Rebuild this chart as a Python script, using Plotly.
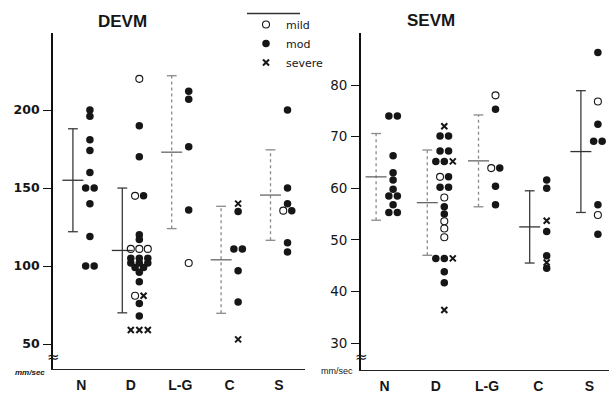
import plotly.graph_objects as go

# ---------------- data ----------------
categories = ["N", "D", "L-G", "C", "S"]

# DEVM, mm/sec
devm_mild = {"N": [], "D": [220, 145, 111, 111, 111, 81], "L-G": [102], "C": [], "S": [135.5]}
devm_mod = {
    "N": [200, 196, 181, 174, 160, 150, 150, 140, 119, 100, 100],
    "D": [190, 170, 145, 120, 117, 105, 105, 105, 102, 102, 102, 99, 99, 96, 90, 76, 68],
    "L-G": [212, 207, 176.5, 136],
    "C": [135, 111, 111, 97, 77],
    "S": [200, 150, 140, 135.5, 115, 109],
}
devm_severe = {"N": [], "D": [81, 59, 59, 59], "L-G": [], "C": [140, 53], "S": []}
devm_mean = [155, 110, 173, 104, 145.5]
devm_sd = [33, 40, 49, 34.3, 29]

# SEVM, mm/sec
sevm_mild = {"N": [], "D": [62.2, 58.2, 53.6, 52.2, 50.5], "L-G": [78, 63.9], "C": [], "S": [76.8, 54.8]}
sevm_mod = {
    "N": [74, 74, 66.3, 63, 61.6, 59.8, 58.5, 58.5, 56.8, 55.3, 55.3],
    "D": [70.1, 70.1, 67.2, 67.2, 65.2, 65.2, 62.2, 60.2, 60.2, 56.4, 55.0, 46.4, 46.4, 43.8, 41.7],
    "L-G": [75.3, 63.9, 60.4, 56.8],
    "C": [61.6, 60.0, 51.6, 46.9, 44.5],
    "S": [86.3, 72.4, 69.1, 69.1, 56.8, 51.1],
}
sevm_severe = {"N": [], "D": [72, 65.2, 46.4, 36.4], "L-G": [], "C": [53.7, 45.6], "S": []}
sevm_mean = [62.2, 57.2, 65.3, 52.5, 67.1]
sevm_sd = [8.4, 10.2, 8.9, 7.0, 11.8]

devm_ticks = [50, 100, 150, 200]
sevm_ticks = [30, 40, 50, 60, 70, 80]

# ---------------- geometry / style ----------------
W, H = 609, 395
L_X = (53, 305); L_Y = (33, 369)
R_X = (361, 609); R_Y = (33, 370)
L_XR = [-0.575, 4.526]; L_YR = [34.0, 249.4]
R_XR = [-0.461, 4.383]; R_YR = [24.77, 90.08]
INK = "#161616"

SEV_STYLE = {
    "mild": dict(symbol="circle-open", size=7, color=INK, line=dict(color=INK, width=1.1)),
    "mod": dict(symbol="circle", size=7.5, color=INK, line=dict(width=0)),
    "severe": dict(symbol="x-thin", size=6, color=INK, line=dict(color=INK, width=2)),
}
SEV_ORDER = ["mild", "mod", "severe"]


def px_unit(xr, xpx):
    return (xr[1] - xr[0]) / (xpx[1] - xpx[0])


def place(mild, mod, severe, binsize, dx, off):
    out = {s: ([], []) for s in SEV_ORDER}
    for i, c in enumerate(categories):
        pts = [(v, 0, "mild") for v in mild[c]] + [(v, 1, "mod") for v in mod[c]] + \
              [(v, 2, "severe") for v in severe[c]]
        rows = {}
        for p in pts:
            rows.setdefault(round(p[0] / binsize), []).append(p)
        for row in rows.values():
            row.sort(key=lambda p: p[1])
            n = len(row)
            for k, (v, _, s) in enumerate(row):
                out[s][0].append(i + off + (k - (n - 1) / 2) * dx)
                out[s][1].append(v)
    return out


fig = go.Figure()


def add_panel(mild, mod, severe, mean, sd, styles, binsize, xr, xpx, xa, ya, legend):
    u = px_unit(xr, xpx)
    dx = 8.5 * u
    dot_off = 8.5 * u
    bar_off = -8.5 * u
    # error bars (mean +/- sd)
    for i in range(len(categories)):
        x = i + bar_off
        lo, hi = mean[i] - sd[i], mean[i] + sd[i]
        dash = styles[i]
        col = "#3a3a3a" if dash == "solid" else "#8a8a8a"
        fig.add_trace(go.Scatter(x=[x, x], y=[lo, hi], mode="lines",
                                 line=dict(color=col, width=1.3, dash=dash),
                                 xaxis=xa, yaxis=ya, showlegend=False, hoverinfo="skip"))
        fig.add_trace(go.Scatter(x=[x, x], y=[lo, hi], mode="markers",
                                 marker=dict(symbol="line-ew", size=7, line=dict(color=col, width=1.3)),
                                 xaxis=xa, yaxis=ya, showlegend=False, hoverinfo="skip"))
        fig.add_trace(go.Scatter(x=[x], y=[mean[i]], mode="markers",
                                 marker=dict(symbol="line-ew", size=15,
                                             line=dict(color="#333" if dash == "solid" else "#666", width=1.3)),
                                 xaxis=xa, yaxis=ya, showlegend=False, hoverinfo="skip"))
    pts = place(mild, mod, severe, binsize, dx, dot_off)
    for s in SEV_ORDER:
        xs, ys = pts[s]
        fig.add_trace(go.Scatter(x=xs, y=ys, mode="markers", name=s, marker=SEV_STYLE[s],
                                 xaxis=xa, yaxis=ya, showlegend=legend))


add_panel(devm_mild, devm_mod, devm_severe, devm_mean, devm_sd,
          ["solid", "solid", "dot", "dot", "dot"], 3.0, L_XR, L_X, "x", "y", True)
add_panel(sevm_mild, sevm_mod, sevm_severe, sevm_mean, sevm_sd,
          ["dot", "dot", "dot", "solid", "solid"], 1.0, R_XR, R_X, "x2", "y2", False)


def xdom(px):
    return [px[0] / W, px[1] / W]


def ydom(px):
    return [(H - px[1]) / H, (H - px[0]) / H]


cat_font = dict(family="Liberation Sans, Arial, sans-serif", size=14, color=INK, weight="bold")
common_x = dict(tickmode="array", tickvals=list(range(len(categories))), ticktext=categories,
                showline=True, linecolor="#222", linewidth=1.4, ticks="", showgrid=False,
                zeroline=False, tickfont=cat_font, automargin=False, ticklabelstandoff=3)
common_y = dict(tickmode="array", showline=True, linecolor="#111", linewidth=1.8, ticks="outside",
                ticklen=8, tickcolor="#111", tickwidth=1.4, showgrid=False, zeroline=False,
                automargin=False, ticklabelstandoff=1)

fig.update_layout(
    width=W, height=H, margin=dict(l=0, r=0, t=0, b=0),
    paper_bgcolor="white", plot_bgcolor="white",
    xaxis=dict(domain=xdom(L_X), range=L_XR, anchor="y", **common_x),
    yaxis=dict(domain=ydom(L_Y), range=L_YR, anchor="x", tickvals=devm_ticks,
               tickfont=dict(family="DejaVu Sans", size=12.5, color=INK, weight="bold"), **common_y),
    xaxis2=dict(domain=xdom(R_X), range=R_XR, anchor="y2", **common_x),
    yaxis2=dict(domain=ydom(R_Y), range=R_YR, anchor="x2", tickvals=sevm_ticks,
                tickfont=dict(family="DejaVu Sans", size=13.5, color=INK), **common_y),
    legend=dict(x=246 / W, y=1 - 10 / H, xanchor="left", yanchor="top",
                font=dict(family="DejaVu Sans", size=11, color=INK),
                bgcolor="rgba(0,0,0,0)", itemwidth=30, tracegroupgap=0),
    showlegend=True,
)

title_font = dict(family="Liberation Sans, Arial, sans-serif", size=17, color=INK, weight="bold")
ann = [
    dict(text="DEVM", x=122.5 / W, y=1 - 21.5 / H, font=title_font),
    dict(text="SEVM", x=431 / W, y=1 - 21 / H, font=title_font),
    dict(text="<i>mm/sec</i>", x=30 / W, y=1 - 372 / H,
         font=dict(family="Liberation Sans, Arial", size=8, color=INK, weight="bold")),
    dict(text="mm/sec", x=337 / W, y=1 - 371 / H,
         font=dict(family="Liberation Sans, Arial", size=9, color=INK)),
    dict(text="≈", x=53 / W, y=1 - 357 / H, font=dict(family="DejaVu Sans", size=15, color=INK)),
    dict(text="≈", x=361 / W, y=1 - 357 / H, font=dict(family="DejaVu Sans", size=15, color=INK)),
]
for a in ann:
    fig.add_annotation(xref="paper", yref="paper", showarrow=False, xanchor="center",
                       yanchor="middle", **a)

# rule above the legend
fig.add_shape(type="line", xref="paper", yref="paper", x0=247 / W, x1=300 / W,
              y0=1 - 13.5 / H, y1=1 - 13.5 / H, line=dict(color="#333", width=1.5))

fig.write_html("out.html", config={"displayModeBar": False},
               post_script="document.body.style.margin='0';document.body.style.overflow='hidden';")
